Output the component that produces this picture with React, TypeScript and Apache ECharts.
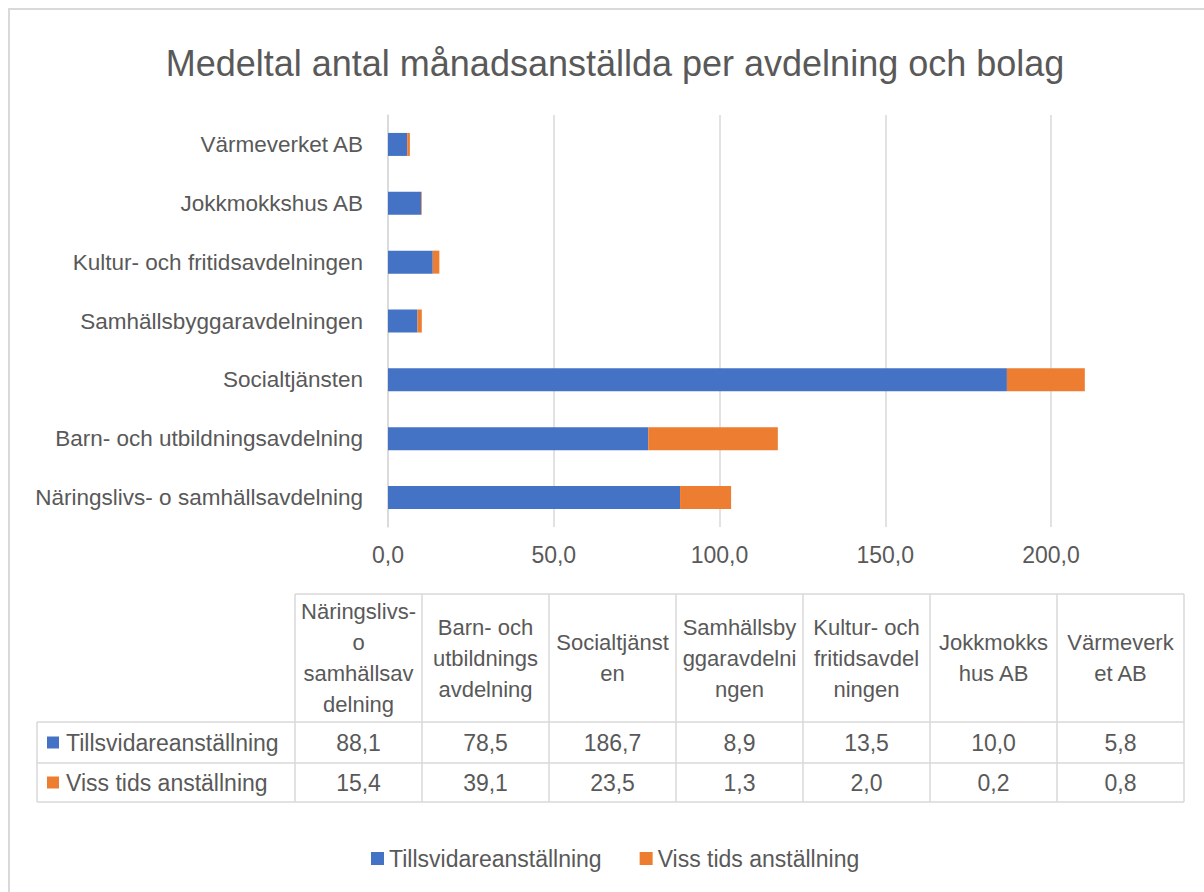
import React, { useEffect, useRef } from "react";
import * as echarts from "echarts";

const titleText = "Medeltal antal månadsanställda per avdelning och bolag";

const categories = [
  "Näringslivs- o samhällsavdelning",
  "Barn- och utbildningsavdelning",
  "Socialtjänsten",
  "Samhällsbyggaravdelningen",
  "Kultur- och fritidsavdelningen",
  "Jokkmokkshus AB",
  "Värmeverket AB",
];

// Table header labels, wrapped as in the reference
const tableHeaders = [
  "Näringslivs-\no\nsamhällsav\ndelning",
  "Barn- och\nutbildnings\navdelning",
  "Socialtjänst\nen",
  "Samhällsby\nggaravdelni\nngen",
  "Kultur- och\nfritidsavdel\nningen",
  "Jokkmokks\nhus AB",
  "Värmeverk\net AB",
];

const seriesNames = ["Tillsvidareanställning", "Viss tids anställning"];
const tillsvidare = [88.1, 78.5, 186.7, 8.9, 13.5, 10.0, 5.8];
const vissTids = [15.4, 39.1, 23.5, 1.3, 2.0, 0.2, 0.8];

const axisMin = 0;
const axisMax = 250;
const axisInterval = 50;

const COLORS = ["#4472C4", "#ED7D31"];
const TEXT = "#595959";
const GRIDC = "#d9d9d9";
const FONT = "'Liberation Sans', Arial, sans-serif";

const fmt = (v: number) => v.toFixed(1).replace(".", ",");

export default function App() {
  const ref = useRef<HTMLDivElement>(null);

  useEffect(() => {
    document.body.style.margin = "0";
    if (!ref.current) return;
    const chart = echarts.init(ref.current, undefined, { renderer: "svg" });

    // table geometry
    const tLeft = 37;
    const cLeft = 295;
    const colW = 127;
    const tRight = cLeft + colW * categories.length;
    const yTop = 594;
    const yHead = 722;
    const yR1 = 763;
    const yR2 = 802;
    const lineStyle = { stroke: GRIDC, lineWidth: 1.5 };

    const g: any[] = [];
    // chart frame
    g.push({
      type: "rect",
      shape: { x: 9, y: 9, width: 1400, height: 1200 },
      style: { fill: "none", stroke: GRIDC, lineWidth: 2 },
      silent: true,
    });
    // horizontal lines
    g.push({ type: "line", shape: { x1: cLeft, y1: yTop, x2: tRight, y2: yTop }, style: lineStyle });
    [yHead, yR1, yR2].forEach((y) =>
      g.push({ type: "line", shape: { x1: tLeft, y1: y, x2: tRight, y2: y }, style: lineStyle })
    );
    // vertical lines
    g.push({ type: "line", shape: { x1: tLeft, y1: yHead, x2: tLeft, y2: yR2 }, style: lineStyle });
    for (let k = 0; k <= categories.length; k++) {
      const x = cLeft + colW * k;
      g.push({ type: "line", shape: { x1: x, y1: yTop, x2: x, y2: yR2 }, style: lineStyle });
    }
    // header texts and values
    const rows = [tillsvidare, vissTids];
    const rowMid = [(yHead + yR1) / 2, (yR1 + yR2) / 2];
    tableHeaders.forEach((h, i) => {
      const cx = cLeft + colW * (i + 0.5);
      g.push({
        type: "text",
        x: cx,
        y: (yTop + yHead) / 2,
        style: {
          text: h,
          fill: TEXT,
          fontSize: 22,
          fontFamily: FONT,
          align: "center",
          verticalAlign: "middle",
          lineHeight: 31,
        },
      });
      rows.forEach((r, ri) => {
        g.push({
          type: "text",
          x: cx,
          y: rowMid[ri],
          style: {
            text: fmt(r[i]),
            fill: TEXT,
            fontSize: 23,
            fontFamily: FONT,
            align: "center",
            verticalAlign: "middle",
          },
        });
      });
    });
    // row headers
    seriesNames.forEach((n, ri) => {
      g.push({
        type: "rect",
        shape: { x: 47, y: rowMid[ri] - 6, width: 12, height: 12 },
        style: { fill: COLORS[ri] },
      });
      g.push({
        type: "text",
        x: 66,
        y: rowMid[ri],
        style: {
          text: n,
          fill: TEXT,
          fontSize: 23,
          fontFamily: FONT,
          align: "left",
          verticalAlign: "middle",
        },
      });
    });

    chart.setOption({
      animation: false,
      backgroundColor: "#ffffff",
      color: COLORS,
      textStyle: { fontFamily: FONT },
      title: {
        text: titleText,
        left: 610,
        top: 40,
        textAlign: "center",
        textStyle: { fontSize: 36, fontWeight: "normal", color: TEXT, fontFamily: FONT },
      },
      legend: {
        data: seriesNames,
        left: 366,
        top: 842,
        icon: "rect",
        itemWidth: 13,
        itemHeight: 13,
        itemGap: 38,
        textStyle: { fontSize: 23, color: TEXT, fontFamily: FONT },
      },
      grid: {
        left: 388,
        top: 115,
        width: (axisMax - axisMin) * 3.315,
        height: 412,
        containLabel: false,
        outerBoundsMode: "none",
      },
      xAxis: {
        type: "value",
        min: axisMin,
        max: axisMax,
        interval: axisInterval,
        axisLine: { show: false },
        axisTick: { show: false },
        splitLine: { show: true, lineStyle: { color: GRIDC, width: 1.5 } },
        axisLabel: {
          formatter: (v: number) => fmt(v),
          fontSize: 23,
          color: TEXT,
          fontFamily: FONT,
          margin: 16,
          showMaxLabel: false,
        },
      },
      yAxis: {
        type: "category",
        data: categories,
        axisTick: { show: false },
        axisLine: { show: true, lineStyle: { color: GRIDC, width: 1.5 } },
        axisLabel: { fontSize: 22.5, color: TEXT, fontFamily: FONT, margin: 25 },
      },
      series: [
        {
          name: seriesNames[0],
          type: "bar",
          stack: "total",
          barWidth: 23,
          data: tillsvidare,
        },
        {
          name: seriesNames[1],
          type: "bar",
          stack: "total",
          barWidth: 23,
          data: vissTids,
        },
      ],
      graphic: g,
    });

    return () => chart.dispose();
  }, []);

  return (
    <div
      ref={ref}
      style={{ position: "absolute", left: 0, top: 0, width: 1204, height: 892 }}
    />
  );
}
